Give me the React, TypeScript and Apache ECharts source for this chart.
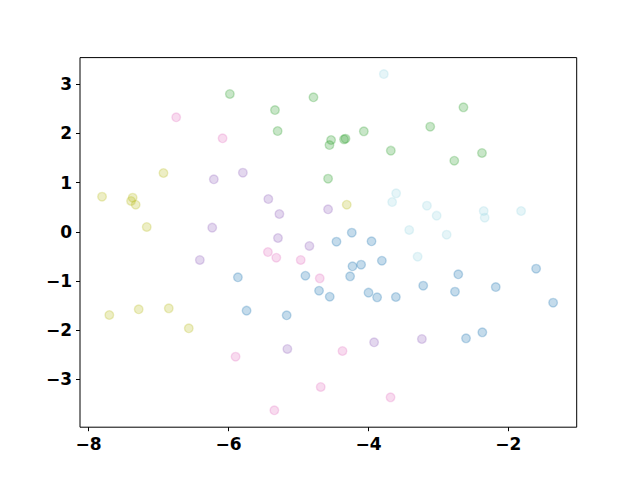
import React, { useEffect, useRef } from "react";
import * as echarts from "echarts";

const xTicks = [-8, -6, -4, -2];
const yTicks = [-3, -2, -1, 0, 1, 2, 3];

const blueX = [-4.238, -4.457, -3.956, -4.228, -4.105, -3.808, -4.262, -4.553, -3.999, -3.876, -3.608, -3.217, -2.716, -2.763, -2.18, -1.603, -1.36, -2.605, -2.372, -5.866, -5.742, -5.169, -4.901, -4.706];
const blueY = [-0.018, -0.201, -0.193, -0.701, -0.669, -0.588, -0.905, -1.32, -1.238, -1.332, -1.326, -1.096, -0.864, -1.218, -1.123, -0.75, -1.442, -2.166, -2.044, -0.925, -1.604, -1.698, -0.893, -1.198];

const greenX = [-5.981, -5.336, -4.786, -5.298, -4.577, -2.642, -3.117, -4.066, -4.534, -4.557, -4.349, -4.328, -3.68, -2.377, -2.773];
const greenY = [2.803, 2.477, 2.736, 2.05, 1.08, 2.532, 2.138, 2.044, 1.867, 1.765, 1.881, 1.894, 1.65, 1.603, 1.446];

const purpleX = [-6.21, -5.795, -6.233, -5.431, -5.273, -5.293, -4.844, -4.577, -6.41, -5.159, -3.919, -3.236];
const purpleY = [1.068, 1.202, 0.084, 0.667, 0.362, -0.126, -0.288, 0.458, -0.573, -2.383, -2.247, -2.18];

const pinkX = [-6.748, -6.085, -5.437, -5.317, -4.968, -4.696, -5.899, -4.682, -5.345, -4.371, -3.684];
const pinkY = [2.329, 1.902, -0.411, -0.527, -0.573, -0.946, -2.54, -3.156, -3.63, -2.424, -3.366];

const oliveX = [-7.808, -7.37, -7.393, -7.327, -7.169, -6.93, -4.31, -7.704, -7.284, -6.854, -6.568];
const oliveY = [0.714, 0.694, 0.627, 0.551, 0.098, 1.196, 0.551, -1.692, -1.576, -1.556, -1.962];

const cyanX = [-3.78, -3.604, -3.661, -3.164, -3.025, -2.352, -2.338, -1.818, -3.417, -2.882, -3.297];
const cyanY = [3.209, 0.783, 0.606, 0.531, 0.328, 0.423, 0.287, 0.423, 0.037, -0.059, -0.506];

const groups = [
  { name: "blue", xs: blueX, ys: blueY, rgb: "31,119,180" },
  { name: "green", xs: greenX, ys: greenY, rgb: "44,160,44" },
  { name: "purple", xs: purpleX, ys: purpleY, rgb: "148,103,189" },
  { name: "pink", xs: pinkX, ys: pinkY, rgb: "227,119,194" },
  { name: "olive", xs: oliveX, ys: oliveY, rgb: "188,189,34" },
  { name: "cyan", xs: cyanX, ys: cyanY, rgb: "158,218,229" },
];

const fmt = (v: number) => (v < 0 ? "\u2212" + Math.abs(v) : String(v));

export default function App() {
  const ref = useRef<HTMLDivElement>(null);
  useEffect(() => {
    if (!ref.current) return;
    const chart = echarts.init(ref.current, null, { renderer: "svg" });
    const labelStyle = {
      color: "#000",
      fontFamily: "DejaVu Sans",
      fontWeight: "bold" as const,
      fontSize: 17,
      formatter: fmt,
    };
    chart.setOption({
      animation: false,
      backgroundColor: "#fff",
      grid: {
        left: 80,
        right: 63.3,
        top: 57.6,
        bottom: 52.8,
        show: true,
        borderColor: "#000",
        borderWidth: 1,
        backgroundColor: "transparent",
      },
      xAxis: {
        type: "value",
        min: -8.123,
        max: -1.023,
        splitLine: { show: false },
        axisLine: { show: false, onZero: false },
        axisTick: { show: true, length: 4, lineStyle: { color: "#000" }, customValues: xTicks },
        axisLabel: { ...labelStyle, margin: 8, customValues: xTicks },
      },
      yAxis: {
        type: "value",
        min: -3.974,
        max: 3.543,
        splitLine: { show: false },
        axisLine: { show: false, onZero: false },
        axisTick: { show: true, length: 4, lineStyle: { color: "#000" }, customValues: yTicks },
        axisLabel: { ...labelStyle, margin: 8, customValues: yTicks },
      },
      series: groups.map((g) => ({
        type: "scatter",
        name: g.name,
        data: g.xs.map((x, i) => [x, g.ys[i]]),
        symbolSize: 8.6,
        itemStyle: {
          color: `rgba(${g.rgb},0.33)`,
          borderColor: `rgba(${g.rgb},0.33)`,
          borderWidth: 1.4,
        },
      })),
    });
    return () => chart.dispose();
  }, []);
  return (
    <div
      ref={ref}
      style={{ position: "fixed", left: 0, top: 0, width: 640, height: 480 }}
    />
  );
}
